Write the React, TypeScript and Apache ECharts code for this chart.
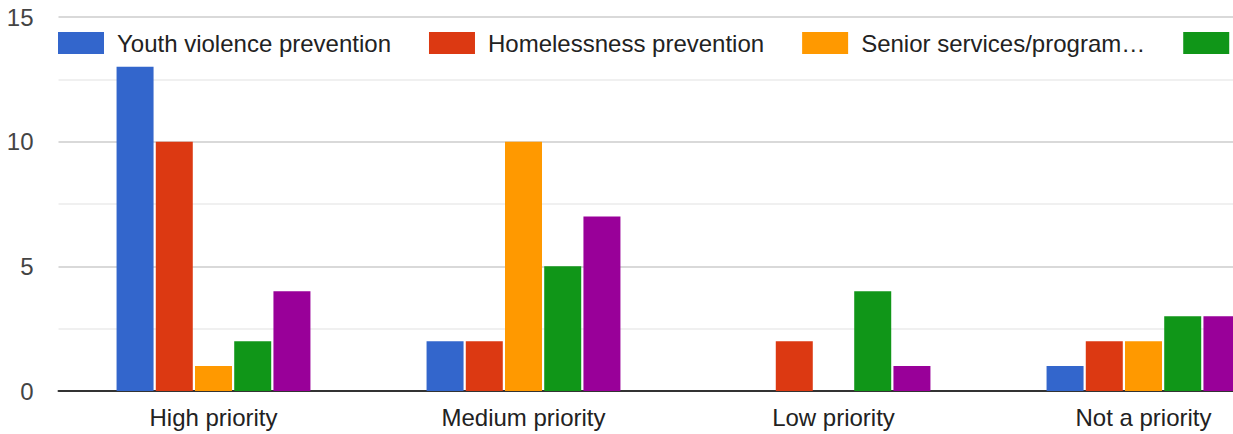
import React, { useEffect, useRef } from "react";
import * as echarts from "echarts";

const categories = ["High priority", "Medium priority", "Low priority", "Not a priority"];
const seriesNames = [
  "Youth violence prevention",
  "Homelessness prevention",
  "Senior services/programs",
  "Mental health services",
  "Affordable housing",
];
const legendLabels = [
  "Youth violence prevention",
  "Homelessness prevention",
  "Senior services/program…",
  "",
];
const colors = ["#3366cc", "#dc3912", "#ff9900", "#109618", "#990099"];
const youthViolence = [13, 2, 0, 1];
const homelessness = [10, 2, 2, 2];
const seniorServices = [1, 10, 0, 2];
const mentalHealth = [2, 5, 4, 3];
const affordableHousing = [4, 7, 1, 3];
const seriesValues = [youthViolence, homelessness, seniorServices, mentalHealth, affordableHousing];
const yTicks = [0, 5, 10, 15];

const FONT = "'Liberation Sans', Arial, sans-serif";

export default function App() {
  const ref = useRef<HTMLDivElement>(null);
  useEffect(() => {
    if (!ref.current) return;
    const chart = echarts.init(ref.current, undefined, { renderer: "svg" });
    chart.setOption({
      animation: false,
      color: colors,
      textStyle: { fontFamily: FONT },
      legend: {
        data: seriesNames.slice(0, 4),
        left: 58,
        top: 31,
        width: 1600,
        padding: 0,
        itemWidth: 46,
        itemHeight: 22,
        itemGap: 38,
        icon: "rect",
        formatter: (name: string) => legendLabels[seriesNames.indexOf(name)],
        textStyle: { fontSize: 24, color: "#222", fontFamily: FONT, padding: [0, 0, 0, 8] },
      },
      grid: { left: 58.5, right: 1.5, top: 17, bottom: 43, containLabel: false },
      xAxis: {
        type: "category",
        data: categories,
        axisTick: { show: false },
        axisLine: { lineStyle: { color: "#333", width: 2 } },
        axisLabel: { fontSize: 24, color: "#222", margin: 14, fontFamily: FONT },
      },
      yAxis: {
        type: "value",
        min: yTicks[0],
        max: yTicks[yTicks.length - 1],
        interval: 5,
        axisLine: { show: false },
        axisTick: { show: false },
        axisLabel: { fontSize: 24, color: "#444", margin: 25, fontFamily: FONT },
        splitLine: { lineStyle: { color: "#cccccc", width: 1.5 } },
        minorTick: { show: false, splitNumber: 2 },
        minorSplitLine: { show: true, lineStyle: { color: "#ebebeb", width: 1.5 } },
      },
      series: seriesNames.map((name, i) => ({
        name,
        type: "bar",
        data: seriesValues[i],
        barWidth: 37,
        barGap: "6%",
        itemStyle: { color: colors[i] },
      })),
    });
    return () => chart.dispose();
  }, []);
  return (
    <div
      style={{
        position: "fixed",
        left: 0,
        top: 0,
        width: 1233,
        height: 434,
        overflow: "hidden",
        background: "#fff",
      }}
    >
      <div ref={ref} style={{ width: 1300, height: 434 }} />
    </div>
  );
}
